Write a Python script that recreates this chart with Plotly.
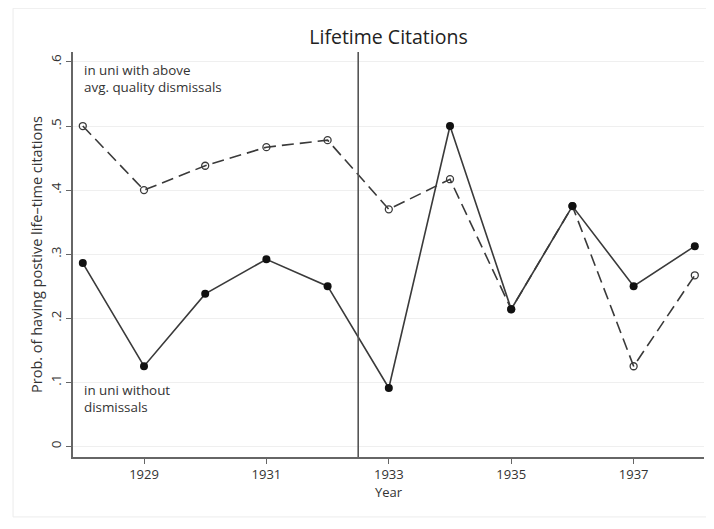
import plotly.graph_objects as go

years = [1928, 1929, 1930, 1931, 1932, 1933, 1934, 1935, 1936, 1937, 1938]
above_avg = [0.500, 0.400, 0.438, 0.467, 0.478, 0.370, 0.417, 0.214, 0.375, 0.125, 0.267]
without = [0.286, 0.125, 0.238, 0.292, 0.250, 0.091, 0.500, 0.214, 0.375, 0.250, 0.3125]
x_ticks = [1929, 1931, 1933, 1935, 1937]
y_ticks = [0, 0.1, 0.2, 0.3, 0.4, 0.5, 0.6]
y_tick_labels = ["0", ".1", ".2", ".3", ".4", ".5", ".6"]
reform_year = 1932.5
label_above = "in uni with above<br>avg. quality dismissals"
label_without = "in uni without<br>dismissals"

FONT = "Open Sans, Noto Sans, DejaVu Sans, sans-serif"
LINE = "#3a3a3a"

# page body has an 8px default margin, so the figure is sized to fit the viewport
W, H = 706, 521

fig = go.Figure()
fig.add_trace(go.Scatter(
    x=years, y=above_avg, mode="lines+markers",
    line=dict(color=LINE, width=1.6, dash="12px,6px"),
    marker=dict(symbol="circle-open", size=7, color=LINE, line=dict(width=1.3, color=LINE)),
    showlegend=False))
fig.add_trace(go.Scatter(
    x=years, y=without, mode="lines+markers",
    line=dict(color=LINE, width=1.6),
    marker=dict(symbol="circle", size=8, color="#111"),
    showlegend=False))

fig.add_vline(x=reform_year, line=dict(color="#555", width=1.6))

fig.add_annotation(x=years[0], y=0.575, xref="x", yref="y", xanchor="left", yanchor="middle",
                   text=label_above, showarrow=False, align="left", borderpad=0,
                   font=dict(family=FONT, size=13.4, color="#333"))
fig.add_annotation(x=years[0], y=0.074, xref="x", yref="y", xanchor="left", yanchor="middle",
                   text=label_without, showarrow=False, align="left", borderpad=0,
                   font=dict(family=FONT, size=13.4, color="#333"))

fig.add_shape(type="rect", xref="paper", yref="paper", x0=-0.095, x1=1.01, y0=-0.148, y1=1.108,
              line=dict(color="#ececec", width=1), layer="below")

fig.update_layout(
    width=W, height=H,
    margin=dict(l=65, r=10, t=44, b=72),
    paper_bgcolor="white", plot_bgcolor="white",
    title=dict(text="Lifetime Citations", x=0.5, xref="paper", xanchor="center",
               y=1 - 29 / H, yanchor="middle",
               font=dict(family=FONT, size=19.5, color="#222")),
    font=dict(family=FONT, color="#333"),
    xaxis=dict(range=[1927.84, 1938.15], tickvals=x_ticks, ticks="outside", ticklen=5,
               tickcolor="#666", showline=True, linecolor="#666", linewidth=1.5,
               showgrid=False, zeroline=False, automargin=False,
               tickfont=dict(family=FONT, size=13, color="#333"),
               title=dict(text="Year", font=dict(family=FONT, size=13, color="#333"), standoff=2)),
    yaxis=dict(range=[-0.0167, 0.6156], tickvals=y_ticks, ticktext=y_tick_labels, tickangle=-90,
               ticks="outside", ticklen=5, tickcolor="#666", showline=True, linecolor="#666",
               linewidth=1.5, showgrid=True, gridcolor="#efefef", gridwidth=1, zeroline=False,
               automargin=False,
               tickfont=dict(family=FONT, size=13.5, color="#333"),
               title=dict(text="Prob. of having postive life\u2013time citations",
                          font=dict(family=FONT, size=14.5, color="#333"), standoff=1)),
)

fig.write_html("out.html")
